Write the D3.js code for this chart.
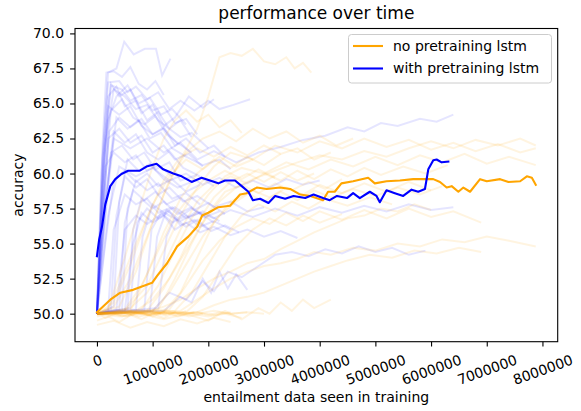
<!DOCTYPE html>
<html>
<head>
<meta charset="utf-8">
<script src="https://cdn.jsdelivr.net/npm/d3@7"></script>
<style>
  body { margin: 0; background: #fff; }
  svg { font-family: "DejaVu Sans", sans-serif; }
</style>
</head>
<body>
<svg id="chart" width="581" height="411"></svg>
<script>
// THE DATA
// x values are in millions of entailment examples seen, y is accuracy
const seriesNames = ["no pretraining lstm", "with pretraining lstm"];
const xTicks = [0, 1000000, 2000000, 3000000, 4000000, 5000000, 6000000, 7000000, 8000000];
const yTicks = [50.0, 52.5, 55.0, 57.5, 60.0, 62.5, 65.0, 67.5, 70.0];

// mean curves
const noPretrainMean = [[0,50.1],[0.24,51.0],[0.42,51.5],[0.65,51.7],[0.99,52.2],[1.08,52.7],[1.26,53.6],[1.44,54.8],[1.64,55.5],[1.8,56.2],[1.89,57.0],[2.0,57.2],[2.18,57.6],[2.39,57.7],[2.57,58.5],[2.69,58.6],[2.87,59.0],[3.05,58.9],[3.29,59.0],[3.47,58.9],[3.65,58.5],[3.83,58.4],[4.06,58.1],[4.15,58.7],[4.27,58.7],[4.39,59.3],[4.6,59.45],[4.87,59.7],[4.99,59.3],[5.2,59.45],[5.44,59.5],[5.68,59.6],[6.04,59.6],[6.16,59.4],[6.28,59.0],[6.37,59.1],[6.49,58.7],[6.58,59.0],[6.7,58.7],[6.88,59.6],[7.0,59.45],[7.24,59.6],[7.39,59.4],[7.6,59.45],[7.72,59.8],[7.81,59.7],[7.88,59.2]];
const pretrainMean = [[0,54.1],[0.04,55.3],[0.09,56.2],[0.15,57.8],[0.24,59.1],[0.33,59.6],[0.44,59.97],[0.56,60.2],[0.77,60.2],[0.89,60.5],[1.07,60.7],[1.19,60.3],[1.37,60.0],[1.52,59.8],[1.7,59.4],[1.88,59.7],[2.03,59.5],[2.18,59.3],[2.3,59.5],[2.48,59.5],[2.6,59.1],[2.72,58.7],[2.8,58.1],[2.93,58.2],[3.08,57.9],[3.2,58.4],[3.38,58.2],[3.53,58.4],[3.74,58.25],[3.89,58.5],[4.06,58.25],[4.18,58.1],[4.31,58.4],[4.49,58.25],[4.6,58.6],[4.72,58.25],[4.9,58.7],[5.02,58.4],[5.08,57.95],[5.2,58.8],[5.35,58.6],[5.5,58.4],[5.65,58.85],[5.77,58.7],[5.89,58.9],[5.95,60.3],[6.04,60.95],[6.1,61.0],[6.19,60.8],[6.31,60.85]];

// individual runs, with pretraining
const pretrainRuns = [
  [[0,50],[0.08,60],[0.2,67.2],[0.35,67.5],[0.49,69.4],[0.66,68.5],[0.86,68.9],[1.06,68.9],[1.17,67.0],[1.32,68.2]],
  [[0,50],[0.1,62],[0.17,67.2],[0.3,67.3],[0.45,66.9],[0.6,67.6],[0.75,66.4],[0.9,66.0],[1.05,66.6],[1.2,65.6]],
  [[0,50],[0.1,61],[0.2,66.5],[0.4,66.6],[0.55,65.8],[0.7,66.2],[0.9,65.3],[1.1,65.8],[1.3,64.6],[1.5,65.2],[1.75,64.5],[2.0,65.2],[2.2,64.6],[2.45,64.9],[2.75,65.3]],
  [[0,50],[0.12,60.5],[0.25,66.3],[0.45,66.0],[0.6,65.2],[0.8,65.6],[1.0,64.5],[1.2,64.8],[1.4,63.6],[1.6,63.9],[1.8,62.8]],
  [[0,50],[0.15,62],[0.3,66.0],[0.5,65.5],[0.7,64.6],[0.9,64.9],[1.1,63.8],[1.3,63.2],[1.5,62.6],[1.7,62.9],[2.0,61.8]],
  [[0,50],[0.1,57],[0.25,64.5],[0.45,65.3],[0.65,64.0],[0.85,63.5],[1.05,64.1],[1.25,62.8],[1.45,62.2],[1.7,61.5]],
  [[0,50],[0.2,59],[0.35,64.0],[0.55,63.2],[0.75,63.8],[0.95,62.5],[1.15,62.9],[1.35,61.8],[1.6,61.2],[1.9,60.6],[2.2,61.0],[2.4,60.3]],
  [[0,50],[0.15,58],[0.3,63.0],[0.5,62.2],[0.7,62.8],[0.9,61.5],[1.1,61.0],[1.3,61.6],[1.55,60.4],[1.8,59.9]],
  [[0,50],[0.1,55],[0.25,61.5],[0.45,62.0],[0.65,61.0],[0.85,61.5],[1.05,60.3],[1.3,60.8],[1.5,59.5],[1.8,59.9],[2.1,59.1]],
  [[0,50],[0.3,50.5],[0.4,58],[0.55,61.0],[0.75,60.2],[0.95,60.7],[1.2,59.6],[1.45,59.0],[1.7,59.4]],
  [[0,50],[0.45,50.3],[0.55,57.5],[0.7,59.5],[0.9,58.8],[1.1,59.3],[1.35,58.2],[1.6,58.6],[1.85,57.8]],
  [[0,50],[0.2,50.2],[0.3,56],[0.5,58.5],[0.7,57.8],[0.9,58.2],[1.1,57.2],[1.35,57.6],[1.6,56.8],[1.85,57.2],[2.1,56.5]],
  [[0,50],[0.6,50.4],[0.72,56.5],[0.9,57.5],[1.1,56.8],[1.3,57.3],[1.5,56.3],[1.75,56.7],[2.0,56.0]],
  [[0,50],[0.85,50.3],[0.98,56],[1.15,57.2],[1.35,56.5],[1.6,57.0],[1.85,56.2],[2.1,56.6],[2.4,56.0]],
  [[0,50],[1.1,50.4],[1.25,55.5],[1.4,56.8],[1.6,56.2],[1.8,56.7],[2.05,55.9],[2.3,56.3],[2.55,55.8]],
  [[0,50],[0.35,50.3],[0.5,56],[0.7,57.0],[0.9,56.4],[1.2,57.2],[1.5,56.6],[1.8,57.3],[2.1,56.8],[2.4,57.4],[2.8,56.9],[3.2,57.5],[3.6,57.0],[4.0,57.6],[4.4,57.2],[4.8,57.7],[5.2,57.3],[5.6,57.8],[6.0,57.4],[6.4,57.6]],
  [[0,50],[0.15,58],[0.3,62.5],[0.6,61.8],[0.9,62.5],[1.2,61.5],[1.5,62.2],[1.8,61.0],[2.1,61.6],[2.5,60.8],[2.9,61.5],[3.3,61.9],[3.7,62.4],[4.1,62.7],[4.5,63.3],[4.8,63.0],[5.1,63.6],[5.4,63.4],[5.8,63.9],[6.1,63.7],[6.4,64.2]],
  [[0,50],[1.0,50.2],[1.3,51.5],[1.6,51.0],[1.9,52.3],[2.1,51.6],[2.35,53.0],[2.6,52.6],[2.9,53.4],[3.2,54.2],[3.5,54.4],[3.8,54.1],[4.1,54.6],[4.4,54.3],[4.7,54.8],[5.0,54.4],[5.3,54.7],[5.6,54.2],[5.9,54.5]],
  [[0,50],[1.2,50.2],[1.5,51.2],[1.7,50.8],[1.9,52.5],[2.05,51.5],[2.2,53.0],[2.35,51.8],[2.5,52.8],[2.7,51.7]],
  [[0,50],[0.1,60],[0.2,65.5],[0.35,66.2],[0.5,64.8],[0.7,65.2],[0.9,63.8],[1.1,64.4],[1.3,63.2],[1.5,63.8],[1.7,62.6]],
  [[0,50],[0.12,61.5],[0.25,66.4],[0.4,65.5],[0.6,66.0],[0.8,64.3],[1.0,64.9],[1.2,63.4],[1.4,64.0],[1.65,65.5],[1.9,64.7],[2.1,65.3]],
  [[0,50],[0.08,58],[0.2,64.8],[0.4,64.2],[0.6,64.8],[0.8,63.4],[1.0,62.8],[1.2,63.3],[1.4,62.0],[1.6,62.5],[1.85,61.5],[2.1,62.0],[2.3,61.2]],
  [[0,50],[0.25,50.3],[0.35,57],[0.5,59.8],[0.7,59.0],[0.9,59.6],[1.1,58.5],[1.3,59.0],[1.55,58.0],[1.8,58.4],[2.1,57.6],[2.4,58.0],[2.7,57.3],[3.0,57.6]],
  [[0,50],[0.5,50.2],[0.65,55],[0.8,57.2],[1.0,56.5],[1.2,57.0],[1.4,56.0],[1.6,56.5],[1.85,55.8],[2.1,56.2],[2.4,55.6],[2.7,56.0],[3.0,55.5],[3.3,55.9],[3.6,55.4]],
  [[0,50],[0.7,50.3],[0.82,55.5],[1.0,57.8],[1.2,57.2],[1.4,57.6],[1.65,56.9],[1.9,57.3],[2.2,56.6]],
  [[0,50],[0.1,56],[0.2,62.5],[0.4,63.2],[0.6,62.2],[0.8,62.7],[1.0,61.5],[1.2,62.0],[1.4,61.0],[1.65,61.4],[1.9,60.5]],
  [[0,50],[0.05,54],[0.15,60.5],[0.3,61.5],[0.5,60.8],[0.7,61.3],[0.9,60.2],[1.1,60.6],[1.35,59.8]],
  [[0,50],[0.1,58],[0.2,63.8],[0.35,65.5],[0.55,66.3],[0.75,65.0],[0.95,65.4],[1.15,64.2],[1.35,64.6],[1.6,63.5]],
  [[0,50],[0.2,57],[0.4,60.5],[0.7,59.8],[1.0,60.4],[1.3,59.5],[1.6,60.0],[1.9,59.2],[2.2,59.7],[2.5,59.0],[2.8,59.5],[3.1,59.0],[3.4,59.6],[3.7,59.2],[4.0,59.5]],
  [[0,50],[0.4,50.3],[0.5,56.5],[0.65,58.8],[0.85,58.1],[1.05,58.7],[1.25,57.8],[1.5,58.3],[1.75,57.4],[2.0,57.9],[2.3,57.1]],
  [[0,50],[0.15,55],[0.3,59.5],[0.5,60.2],[0.7,59.4],[0.9,60.0],[1.1,59.1],[1.35,59.6],[1.6,58.7],[1.85,59.2]],
  [[0,50],[0.95,50.2],[1.08,55.5],[1.25,57.4],[1.45,56.8],[1.7,57.5],[1.95,56.9],[2.2,57.3]],
  [[0,50],[0.55,50.3],[0.65,56.0],[0.8,58.2],[1.0,57.5],[1.2,58.0],[1.45,57.1],[1.7,57.6],[1.95,56.8]],
  [[0,50],[0.1,57],[0.22,63.0],[0.4,64.0],[0.6,63.3],[0.8,63.9],[1.0,62.8],[1.2,63.2],[1.45,62.1]]
];

// individual runs, no pretraining
const noPretrainRuns = [
  [[0,50],[0.2,50.1],[0.4,49.9],[0.6,50.2],[0.8,50.0],[1.0,50.1],[1.2,49.9],[1.4,50.1],[1.6,50.0],[1.8,50.1],[2.0,49.9],[2.2,50.1],[2.4,50.0],[2.7,50.1]],
  [[0,49.8],[0.2,50.0],[0.4,50.2],[0.6,49.9],[0.8,50.1],[1.0,49.8],[1.2,50.1],[1.4,49.9],[1.6,50.2]],
  [[0,50.1],[0.15,49.7],[0.35,50.0],[0.55,49.8],[0.75,50.1],[0.95,49.9],[1.15,50.0]],
  [[0,49.5],[0.2,49.8],[0.4,49.4],[0.6,49.9],[0.8,49.6],[1.0,50.0],[1.2,49.7],[1.4,50.1],[1.65,49.8],[1.9,50.0]],
  [[0,50],[0.3,50.1],[0.6,50.0],[0.9,50.2],[1.2,50.0],[1.5,50.1],[1.8,50.0],[2.1,50.2],[2.4,50.0],[2.7,50.1],[3.0,50.0]],
  [[0,50.2],[0.25,50.0],[0.5,50.3],[0.75,50.0],[1.0,50.2],[1.25,49.9]],
  [[0,50],[0.3,50.0],[0.6,50.1],[0.9,49.9],[1.2,50.1],[1.5,50.0],[1.8,50.1],[2.1,49.9],[2.4,50.1]],
  [[0,50.1],[0.25,49.9],[0.5,50.1],[0.75,49.8],[1.0,50.0],[1.25,50.2],[1.5,49.9],[1.75,50.1]],
  [[0,49.9],[0.2,50.1],[0.45,49.8],[0.7,50.1],[0.95,49.9],[1.2,50.1],[1.45,49.8],[1.7,50.0],[2.0,49.8],[2.3,50.0],[2.6,49.7]],
  [[0,50],[0.4,49.8],[0.8,50.0],[1.2,49.6],[1.6,50.0],[2.0,49.5],[2.3,50.2],[2.6,49.6],[2.9,50.4],[3.1,50.0],[3.3,50.8],[3.5,50.2],[3.7,51.0],[3.9,50.4],[4.2,51.0]],
  [[0,50],[0.3,50.5],[0.6,52.5],[0.9,55.5],[1.2,58.5],[1.5,61.0],[1.8,63.2],[2.0,65.5],[2.2,68.3],[2.4,68.6],[2.6,68.4],[2.8,68.9],[3.0,68.0],[3.2,67.8],[3.4,68.3],[3.55,67.5],[3.7,67.9],[3.85,67.2]],
  [[0,50],[0.5,50.2],[0.9,52.0],[1.2,54.5],[1.5,57.0],[1.8,59.0],[2.1,60.5],[2.4,61.5],[2.8,61.0],[3.2,62.0],[3.6,61.5],[4.0,62.3],[4.4,61.8],[4.8,62.5],[5.2,61.9],[5.6,62.4],[6.0,61.7],[6.4,62.2],[6.8,61.6],[7.2,62.1],[7.6,61.5],[7.88,61.8]],
  [[0,50],[0.8,50.3],[1.1,52.0],[1.4,54.5],[1.7,56.8],[2.0,58.5],[2.3,59.8],[2.6,60.4],[3.0,60.0],[3.4,60.8],[3.8,60.3],[4.2,61.0],[4.6,60.5],[5.0,61.2],[5.4,60.6],[5.8,61.3],[6.2,60.8],[6.6,61.4],[7.0,60.7],[7.4,61.2],[7.88,60.6]],
  [[0,50],[0.4,50.5],[0.7,53.0],[1.0,56.5],[1.3,59.5],[1.6,61.5],[1.9,62.5],[2.2,63.0],[2.5,62.3],[2.8,63.2],[3.1,62.5],[3.4,63.0],[3.7,62.2],[4.0,62.7],[4.3,62.0],[4.6,62.5]],
  [[0,50],[0.2,50.3],[0.5,54.0],[0.8,58.0],[1.0,60.5],[1.2,62.5],[1.4,63.8],[1.6,64.5],[1.8,63.7],[2.0,64.2],[2.2,63.3],[2.4,63.8],[2.6,62.9]],
  [[0,50],[1.0,50.2],[1.3,51.5],[1.6,53.5],[1.9,55.5],[2.2,57.0],[2.5,58.0],[2.8,58.8],[3.1,58.3],[3.4,59.0],[3.7,58.5],[4.0,59.2],[4.4,58.6],[4.8,59.3],[5.2,58.7],[5.6,59.4],[6.0,58.8]],
  [[0,50],[1.3,50.3],[1.6,52.0],[1.9,53.8],[2.2,55.2],[2.5,56.2],[2.8,56.8],[3.1,56.4],[3.4,57.2],[3.7,56.6],[4.0,57.3],[4.4,56.7],[4.8,57.4],[5.2,56.8],[5.6,57.5],[6.0,56.9],[6.4,57.3],[6.9,56.5]],
  [[0,50],[1.5,50.2],[1.8,51.0],[2.1,51.8],[2.4,52.5],[2.7,53.0],[3.0,53.4],[3.3,53.6],[3.6,53.9],[3.9,54.4],[4.2,54.2],[4.6,54.7],[5.0,54.5],[5.4,55.0],[5.8,54.8],[6.2,55.3],[6.6,55.1],[7.0,55.5],[7.4,55.2],[7.88,54.8]],
  [[0,50],[1.8,50.1],[2.1,50.6],[2.4,51.0],[2.7,51.2],[3.0,51.5],[3.3,52.0],[3.6,52.5],[3.9,53.0],[4.2,53.4],[4.5,53.8],[4.9,54.2],[5.3,54.0],[5.7,54.5],[6.1,54.3],[6.5,54.7],[6.9,54.4]],
  [[0,50],[0.6,50.4],[0.9,51.5],[1.2,53.5],[1.5,56.0],[1.8,58.0],[2.1,59.2],[2.4,59.8],[2.7,59.3],[3.0,60.0],[3.3,59.5],[3.6,60.2],[3.9,59.6],[4.2,60.3],[4.5,59.8],[4.8,60.4],[5.1,59.9],[5.5,60.5],[5.9,60.0],[6.3,60.6]],
  [[0,50],[0.3,50.8],[0.6,53.5],[0.9,56.8],[1.2,59.5],[1.5,61.2],[1.8,61.8],[2.1,61.2],[2.4,61.9],[2.7,61.3],[3.0,62.0],[3.3,61.4],[3.6,61.8],[3.9,61.0],[4.2,61.5]],
  [[0,50],[1.2,50.1],[1.5,51.5],[1.8,54.0],[2.1,56.5],[2.4,58.0],[2.7,58.6],[3.0,58.0],[3.3,58.7],[3.6,58.1],[3.9,58.8],[4.2,58.3],[4.6,58.9],[5.0,58.4],[5.4,59.0],[5.8,58.5],[6.2,59.1]],
  [[0,50],[0.7,50.2],[1.0,51.0],[1.3,52.5],[1.6,54.5],[1.9,56.5],[2.2,58.0],[2.5,59.0],[2.8,59.6],[3.2,60.2],[3.6,60.8],[4.0,61.3],[4.4,61.0],[4.8,61.6],[5.2,61.2],[5.6,61.8],[6.0,62.3],[6.4,61.8],[6.8,62.4],[7.2,62.0],[7.6,62.5],[7.88,62.0]],
  [[0,50],[0.9,50.1],[1.2,50.5],[1.5,51.0],[1.8,51.8],[2.1,52.5],[2.4,53.0],[2.7,53.6],[3.0,53.9],[3.3,54.6],[3.6,55.2],[3.9,55.8],[4.2,56.3],[4.5,56.8],[4.8,57.0],[5.1,57.5],[5.4,57.3],[5.7,57.8],[6.0,57.4]],
  [[0,50],[0.5,50.3],[0.8,52.0],[1.1,54.5],[1.4,57.0],[1.7,58.5],[2.0,59.5],[2.3,60.2],[2.6,59.6],[2.9,60.3],[3.2,59.7]],
  [[0,49.2],[0.3,49.5],[0.6,49.0],[0.9,49.4],[1.2,49.1],[1.5,49.6],[1.8,49.3],[2.1,49.7],[2.4,49.4]],
  [[0,50],[0.9,50.2],[1.2,51.8],[1.5,54.0],[1.8,56.5],[2.1,58.3],[2.4,59.4],[2.7,60.0],[3.0,59.4],[3.3,60.1],[3.6,59.5],[3.9,60.0]],
  [[0,50],[1.1,50.3],[1.4,52.5],[1.7,55.0],[2.0,57.2],[2.3,58.7],[2.6,59.2],[2.9,58.6],[3.2,59.3],[3.5,58.8],[3.8,59.4],[4.1,58.9],[4.4,59.6]],
  [[0,50],[0.6,50.2],[0.9,52.8],[1.2,55.8],[1.5,58.2],[1.8,60.0],[2.1,61.0],[2.4,60.4],[2.7,61.2],[3.0,60.6],[3.3,61.4]],
  [[0,50],[1.4,50.2],[1.7,51.5],[2.0,53.5],[2.3,55.5],[2.6,57.0],[2.9,57.8],[3.2,57.3],[3.5,58.0],[3.8,57.5],[4.1,58.2],[4.5,57.7],[4.9,58.3],[5.3,57.8]],
  [[0,50],[0.2,50.4],[0.4,52.0],[0.7,55.0],[1.0,57.8],[1.3,59.8],[1.6,61.0],[1.9,60.3],[2.2,61.2],[2.5,60.5],[2.8,61.0]],
  [[0,50],[1.6,50.1],[1.9,51.2],[2.2,53.0],[2.5,54.8],[2.8,56.0],[3.1,56.8],[3.4,56.3],[3.7,57.0],[4.0,56.5],[4.4,57.1]]
];

const colors = ["orange", "blue"];

// SETTING UP THE AXES
const svg = d3.select("#chart");
const plot = {left: 75, right: 557.7, top: 28.5, bottom: 341.7};

const x = d3.scaleLinear().domain([-394000, 8274000]).range([plot.left, plot.right]);
const y = d3.scaleLinear().domain([48.0, 70.35]).range([plot.bottom, plot.top]);

const line = d3.line()
  .x(d => x(d[0] * 1e6))
  .y(d => y(d[1]));

svg.append("defs").append("clipPath").attr("id", "plotClip")
  .append("rect")
  .attr("x", plot.left).attr("y", plot.top)
  .attr("width", plot.right - plot.left).attr("height", plot.bottom - plot.top);

const lines = svg.append("g").attr("clip-path", "url(#plotClip)");

// faint runs
lines.append("g").selectAll("path")
  .data(pretrainRuns)
  .join("path")
  .attr("d", line)
  .attr("fill", "none")
  .attr("stroke", colors[1])
  .attr("stroke-opacity", 0.1)
  .attr("stroke-width", 2);

lines.append("g").selectAll("path")
  .data(noPretrainRuns)
  .join("path")
  .attr("d", line)
  .attr("fill", "none")
  .attr("stroke", colors[0])
  .attr("stroke-opacity", 0.12)
  .attr("stroke-width", 2);

// mean curves on top
[noPretrainMean, pretrainMean].forEach((s, i) => {
  lines.append("path")
    .datum(s)
    .attr("d", line)
    .attr("fill", "none")
    .attr("stroke", colors[i])
    .attr("stroke-width", 2.1)
    .attr("stroke-linejoin", "round")
    .attr("stroke-linecap", "square");
});

// axes
const xAxis = svg.append("g")
  .attr("transform", `translate(0,${plot.bottom})`)
  .call(d3.axisBottom(x).tickValues(xTicks).tickSize(4.9).tickPadding(4.9).tickFormat(d3.format("d")));
xAxis.select(".domain").remove();
xAxis.selectAll("line").attr("stroke", "#000").attr("stroke-width", 1.1);

xAxis.selectAll("text").attr("font-size", 14).attr("fill", "#000").attr("font-family", "DejaVu Sans");
xAxis.selectAll("text").each(function() {
  const t = d3.select(this);
  const w = this.getComputedTextLength();
  const h = 14 * 1.17;
  const a = 20 * Math.PI / 180;
  const cy = 4.9 + 4.9 + (w * Math.sin(a) + h * Math.cos(a)) / 2;
  t.attr("y", cy).attr("dy", "0.35em")
   .attr("transform", `rotate(-20,0,${cy})`);
});

const yAxis = svg.append("g")
  .attr("transform", `translate(${plot.left},0)`)
  .call(d3.axisLeft(y).tickValues(yTicks).tickSize(4.9).tickPadding(6).tickFormat(d3.format(".1f")));
yAxis.select(".domain").remove();
yAxis.selectAll("line").attr("stroke", "#000").attr("stroke-width", 1.1);
yAxis.selectAll("text").attr("font-size", 14).attr("fill", "#000").attr("font-family", "DejaVu Sans");

// frame
svg.append("rect")
  .attr("x", plot.left).attr("y", plot.top)
  .attr("width", plot.right - plot.left).attr("height", plot.bottom - plot.top)
  .attr("fill", "none").attr("stroke", "#000").attr("stroke-width", 1.1);

// labels
svg.append("text")
  .attr("x", (plot.left + plot.right) / 2).attr("y", 18.5)
  .attr("text-anchor", "middle").attr("font-size", 17)
  .text("performance over time");

svg.append("text")
  .attr("x", (plot.left + plot.right) / 2).attr("y", 402)
  .attr("text-anchor", "middle").attr("font-size", 14)
  .text("entailment data seen in training");

svg.append("text")
  .attr("transform", `translate(18,${(plot.top + plot.bottom) / 2}) rotate(-90)`)
  .attr("text-anchor", "middle").attr("dy", "0.35em").attr("font-size", 14)
  .text("accuracy");

// legend
const legend = svg.append("g");
legend.append("rect")
  .attr("x", 348.5).attr("y", 34.5).attr("width", 203).attr("height", 48.5)
  .attr("rx", 3).attr("fill", "#fff").attr("fill-opacity", 0.8)
  .attr("stroke", "#ccc").attr("stroke-width", 1);

seriesNames.forEach((name, i) => {
  const ly = 46 + i * 22.5;
  legend.append("line")
    .attr("x1", 353).attr("x2", 383).attr("y1", ly).attr("y2", ly)
    .attr("stroke", colors[i]).attr("stroke-width", 2.1);
  legend.append("text")
    .attr("x", 393).attr("y", ly).attr("dy", "0.35em")
    .attr("font-size", 14)
    .text(name);
});
</script>
</body>
</html>
